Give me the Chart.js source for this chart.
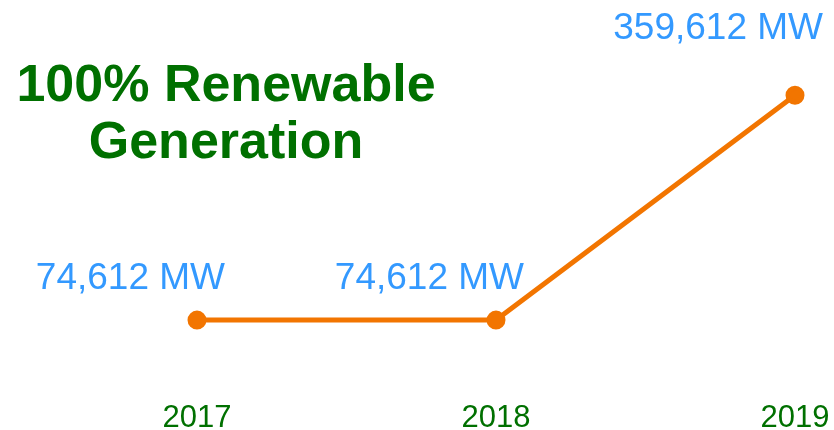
<!DOCTYPE html>
<html>
<head>
<meta charset="utf-8">
<script src="https://cdn.jsdelivr.net/npm/chart.js@4"></script>
<style>
  html, body { margin: 0; padding: 0; background: #fff; }
  #wrap { width: 834px; height: 430px; }
</style>
</head>
<body>
<div id="wrap"><canvas id="genChart" width="834" height="430"></canvas></div>
<script>
const years = ['2017', '2018', '2019'];
const generationMW = [74612, 74612, 359612];
const titleLines = ['100% Renewable', 'Generation'];

const FONT = '"Liberation Sans", Arial, sans-serif';
// how far each value label's baseline sits above its point
const labelLift = [31, 31, 56];

const overlayText = {
    id: 'overlayText',
    afterDatasetsDraw(chart) {
        const ctx = chart.ctx;
        ctx.save();
        // title block
        ctx.fillStyle = '#007000';
        ctx.font = 'bold 52px ' + FONT;
        ctx.textAlign = 'center';
        ctx.textBaseline = 'alphabetic';
        ctx.fillText(titleLines[0], 226, 101);
        ctx.fillText(titleLines[1], 226, 158);

        // value labels
        ctx.fillStyle = '#3399ff';
        ctx.font = '37px ' + FONT;
        ctx.textAlign = 'right';
        const meta = chart.getDatasetMeta(0);
        meta.data.forEach(function (pt, i) {
            const label = generationMW[i].toLocaleString('en-US') + ' MW';
            ctx.fillText(label, pt.x + 28, pt.y - labelLift[i]);
        });
        ctx.restore();
    }
};

new Chart(document.getElementById('genChart'), {
    type: 'line',
    data: {
        labels: years,
        datasets: [{
            data: generationMW,
            borderColor: '#f27500',
            backgroundColor: '#f27500',
            borderWidth: 5,
            pointRadius: 7,
            pointHoverRadius: 7,
            tension: 0,
            clip: false
        }]
    },
    options: {
        responsive: false,
        animation: false,
        events: [],
        layout: { padding: { left: 197, right: 39, top: 0, bottom: 0 } },
        plugins: {
            legend: { display: false },
            tooltip: { enabled: false }
        },
        scales: {
            x: {
                offset: false,
                grid: { display: false, drawTicks: false },
                border: { display: false },
                afterFit: function (scale) {
                    scale.height = 51;
                    scale.paddingLeft = 0;
                    scale.paddingRight = 0;
                    scale.paddingTop = 0;
                    scale.paddingBottom = 0;
                },
                ticks: {
                    color: '#007000',
                    padding: 21,
                    maxRotation: 0,
                    font: { family: FONT, size: 31 }
                }
            },
            y: {
                display: false,
                min: 0,
                max: 465000
            }
        }
    },
    plugins: [overlayText]
});
</script>
</body>
</html>
